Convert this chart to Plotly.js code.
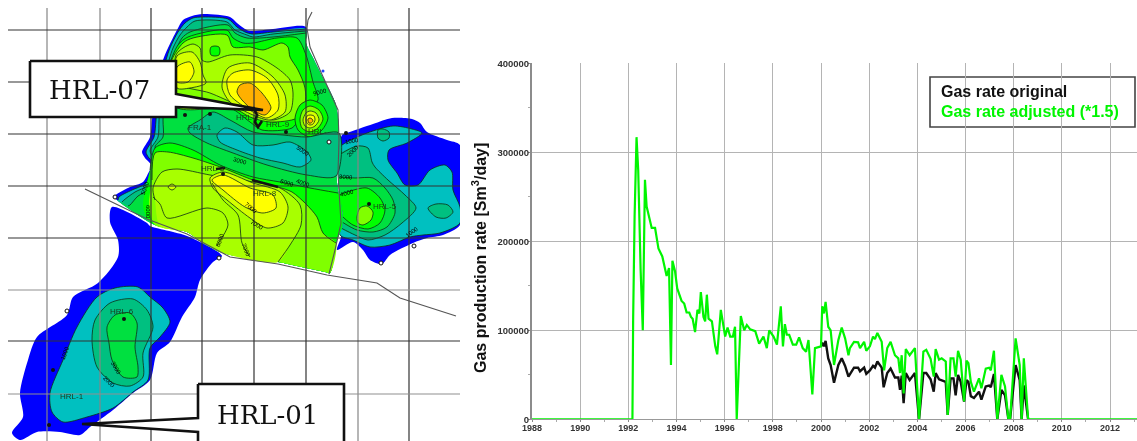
<!DOCTYPE html>
<html>
<head>
<meta charset="utf-8">
<script src="https://cdn.plot.ly/plotly-3.0.1.min.js"></script>
<style>
html,body{margin:0;padding:0;background:#fff;overflow:hidden}
#chart{width:1137px;height:441px}
#chart svg.main-svg{filter:blur(.4px)}
</style>
</head>
<body>
<div id="chart"></div>
<script>
// ---------- production chart data (year, Sm3/day) ----------
const adjustedYears = [1988,1992.17,1992.2,1992.23,1992.26,1992.34,1992.41,1992.51,1992.6,1992.69,1992.76,1992.97,1993.11,1993.25,1993.41,1993.59,1993.69,1993.77,1993.83,1993.94,1994.03,1994.21,1994.32,1994.42,1994.53,1994.6,1994.67,1994.77,1994.87,1994.95,1995.01,1995.12,1995.19,1995.26,1995.33,1995.47,1995.61,1995.69,1995.84,1996.02,1996.12,1996.23,1996.34,1996.43,1996.5,1996.67,1996.81,1996.92,1997.06,1997.27,1997.43,1997.61,1997.75,1997.85,1998.03,1998.17,1998.33,1998.42,1998.5,1998.58,1998.68,1998.83,1998.97,1999.09,1999.24,1999.38,1999.48,1999.64,1999.75,2000,2000.05,2000.12,2000.19,2000.3,2000.4,2000.54,2000.72,2000.86,2001,2001.14,2001.2,2001.37,2001.54,2001.62,2001.79,2001.88,2002.03,2002.16,2002.24,2002.34,2002.52,2002.62,2002.75,2002.89,2003.07,2003.21,2003.28,2003.35,2003.43,2003.52,2003.68,2003.9,2004.07,2004.25,2004.37,2004.55,2004.68,2004.76,2004.9,2005.01,2005.18,2005.26,2005.38,2005.5,2005.59,2005.69,2005.8,2005.94,2006.04,2006.12,2006.22,2006.35,2006.56,2006.66,2006.84,2006.98,2007.05,2007.18,2007.32,2007.49,2007.64,2007.78,2007.85,2008.08,2008.25,2008.33,2008.42,2008.6,2013.2];
const gasAdjusted = [0,0,113000,175000,228000,317000,280000,168000,100000,269000,239000,215000,215000,192000,183000,161000,170000,61000,178000,166000,147000,133000,130000,120000,120000,115000,113000,98000,123000,119000,143000,115000,110000,140000,113000,110000,82000,73000,123000,93000,103000,93000,93000,104000,0,116000,100000,106000,101000,99000,85000,93000,80000,100000,93000,84000,127000,82000,107000,95000,95000,84000,84000,92000,80000,76000,89000,28000,80000,82000,127000,119000,132000,104000,100000,61000,89000,103000,91000,72000,80000,87000,86500,80000,87000,77000,82000,93000,90000,97000,87000,55000,80000,87000,72000,68500,52000,72000,29000,79000,72000,80000,0,76000,78000,68000,48000,79000,67000,68500,65000,5000,68500,68500,48000,77000,67000,20000,66000,63000,42000,31000,46000,35000,57000,58000,55000,77000,0,50000,37000,0,0,91000,61000,0,68500,0,0];
const originalYears = [2000,2000.05,2000.12,2000.19,2000.3,2000.4,2000.54,2000.72,2000.86,2001,2001.14,2001.37,2001.54,2001.62,2001.79,2001.88,2002.03,2002.16,2002.24,2002.34,2002.52,2002.6,2002.75,2002.89,2003.07,2003.21,2003.28,2003.35,2003.43,2003.52,2003.68,2003.9,2004.07,2004.25,2004.37,2004.55,2004.68,2004.76,2004.9,2005.01,2005.18,2005.26,2005.38,2005.5,2005.59,2005.69,2005.8,2005.94,2006.04,2006.12,2006.22,2006.35,2006.56,2006.66,2006.84,2006.98,2007.05,2007.18,2007.32,2007.49,2007.64,2007.78,2007.85,2008.08,2008.25,2008.33,2008.42,2008.6];
const gasOriginal = [82000,86000,82000,88000,68500,61000,41000,61000,68500,60000,48000,58000,58000,54000,58000,51000,55000,60000,58000,65000,58000,36000,52000,57000,47000,47000,33000,49000,18000,52000,44000,52000,0,52000,52000,45000,31000,52000,45000,44000,42000,5000,46000,46000,27000,50000,42000,20000,44000,42000,26000,24000,31000,22000,37000,38000,36000,51000,0,33000,27000,0,0,61000,44000,0,38000,0];
const yearTicks = [1988,1990,1992,1994,1996,1998,2000,2002,2004,2006,2008,2010,2012];
const rateTicks = [0,100000,200000,300000,400000];
const seriesNames = ['Gas rate original','Gas rate adjusted (*1.5)'];
const yTitleText = '<b>Gas production rate [Sm<sup>3</sup>/day]</b>';

// ---------- map data (map sheet coordinates) ----------
const gridXDark = [151,202,254,306,409];
const gridXGrey = [47,100,358];
const gridYDark = [30,82,134,186,238,341];
const gridYGrey = [290,394];
const BLUE='#0000ff',TEAL='#00c0c0',TEALG='#00c080',GREEN='#00e040',BRIGHT='#00ff00',LIME='#80ff00',YG='#a8ff00',YG2='#d4ff00',YEL='#ffff00',ORG='#ffb000';

const eastEdge  = [[306,43],[313,58],[323,78],[335,102],[338,118],[339,133],[336,167],[338,190],[342,210],[342,227],[337,240],[330,273]];
const southEdge = [[325,272],[278,262],[223,253],[203,243],[187,232],[155,225],[117,200]];
const nBlue  = [[113,197],[117,194],[130,187],[143,182],[150,170],[153,167],[145,158],[142,152],[150,137],[152,120],[155,90],[163,60],[168,48],[177,30],[183,20],[192,16],[203,14],[230,17],[237,23],[245,29],[250,31],[273,29],[306,27]];
const nTeal  = [[118,200],[119,197],[132,190],[145,184],[152,172],[155,165],[149,158],[146,152],[154,137],[156,120],[158,90],[166,60],[170,48],[178,32],[185,23],[193,18],[203,17],[228,19],[237,27],[245,32],[252,34],[273,32],[306,29]];
const nTealG = [[122,202],[124,200],[135,192],[147,186],[154,174],[158,166],[154,158],[150,151],[158,137],[159,120],[161,90],[169,60],[173,48],[180,35],[187,27],[195,21],[227,22],[235,30],[247,35],[253,37],[273,34],[306,31]];
const nGreen = [[128,206],[130,205],[138,196],[149,190],[154,180],[161,170],[161,158],[155,147],[163,137],[163,120],[165,90],[172,60],[176,50],[182,38],[190,32],[228,25],[235,33],[247,38],[273,37],[306,33]];
const upBright = [[168,70],[178,45],[188,37],[227,30],[233,38],[243,43],[253,43],[277,38],[297,38],[306,55],[313,82],[318,100],[310,108],[300,118],[292,128],[262,130],[250,122],[230,108],[176,107],[165,105]];
const upLime = [[170,65],[183,43],[193,38],[227,35],[233,47],[250,47],[263,50],[282,43],[288,47],[290,57],[298,70],[305,88],[305,105],[297,118],[270,122],[250,117],[233,108],[176,107]];
const upYG = [[176,55],[183,48],[193,44],[200,48],[202,60],[208,62],[230,55],[257,57],[277,68],[290,80],[293,93],[290,112],[273,120],[253,113],[237,105],[210,93],[177,83]];
const leftYG2 = [[177,56],[192,52],[200,62],[203,75],[206,83],[190,88],[177,88]];
const leftYel = [[177,67],[190,62],[194,72],[188,82],[177,82]];
const peakYG2 = [[222,87],[228,68],[250,63],[273,77],[285,95],[285,112],[270,120],[253,115],[230,102]];
const peakYel = [[227,80],[233,73],[250,70],[267,78],[278,95],[278,110],[267,118],[253,112],[230,95]];
const peakOrg = [[237,92],[240,85],[250,83],[262,93],[271,108],[265,115],[253,110],[242,100]];
const pond = [[215,46],[219,47],[220,51],[219,55],[215,56],[211,55],[210,51],[211,47]];
const trough = [[188,128],[200,120],[213,112],[230,120],[253,132],[283,135],[307,137],[339,133],[336,176],[307,175],[267,165],[233,153],[207,143],[190,133]];
const troughCore = [[217,135],[225,128],[237,132],[253,145],[273,145],[290,142],[307,152],[311,160],[300,167],[283,163],[260,158],[237,150],[220,142]];
const southBright = [[150,170],[155,148],[170,143],[193,150],[220,165],[253,177],[280,182],[310,188],[338,193]];
const southBrightClose = [[342,210],[342,227],[337,240],[330,273],[325,272],[278,262],[223,253],[203,243],[187,232],[155,225],[147,218],[143,205]];
const southLime = [[152,180],[155,153],[168,152],[193,158],[223,168],[253,180],[278,187],[292,192],[306,204],[317,217],[323,233],[336,243]];
const southLimeClose = [[330,273],[325,272],[278,262],[223,253],[203,243],[187,232],[155,225],[149,205]];
const southYG = [[155,200],[153,188],[162,172],[177,169],[210,175],[253,182],[280,188],[300,205],[301,225],[290,245],[278,262]];
const southYGClose = [[223,253],[203,243],[187,232],[160,226]];
const coreYG2 = [[210,178],[223,172],[253,183],[280,192],[288,207],[283,223],[267,228],[250,218],[227,200],[213,188]];
const coreYel = [[212,180],[223,175],[250,188],[273,195],[276,208],[263,213],[245,207],[223,190]];
const lineA = [[153,197],[160,204],[167,218],[207,208],[223,213],[228,225],[217,245]];
const lineB = [[212,183],[223,200],[238,215],[242,243],[250,257]];
const oval = [[168,187],[172,184],[176,187],[172,190]];
const ring1 = [[310,100],[322,105],[328,118],[322,130],[310,137],[298,130],[295,118],[300,105]];
const ring2 = [[310,106],[319,110],[323,119],[318,128],[310,132],[302,128],[300,119],[303,110]];
const ring3 = [[310,111],[316,113],[319,120],[315,126],[310,128],[305,126],[303,120],[306,113]];
const ring4 = [[310,115],[314,116],[315,120],[313,124],[310,125],[307,123],[306,120],[307,116]];
const ring5 = [[310,118],[312,119],[313,121],[311,123],[309,123],[308,121],[308,119]];

const swBlue = [[112,207],[147,223],[150,226],[187,236],[222,256],[213,262],[200,280],[195,297],[182,317],[170,342],[157,353],[150,380],[133,393],[113,410],[90,427],[80,435],[60,432],[37,432],[20,440],[12,433],[23,417],[20,393],[28,360],[37,337],[67,315],[73,297],[98,283],[118,257],[118,240],[110,222]];
const swTeal = [[115,288],[138,287],[150,297],[163,308],[170,322],[160,337],[150,348],[148,380],[133,392],[113,408],[87,417],[63,422],[52,412],[50,393],[63,360],[77,327],[97,297]];
const swTealG = [[92,340],[95,320],[110,303],[133,299],[147,310],[153,327],[143,353],[143,377],[130,386],[113,383],[97,367]];
const swGreen = [[107,327],[115,315],[130,313],[137,323],[135,347],[138,367],[137,377],[123,377],[112,360],[109,343]];

const eBlue = [[342,135],[347,133],[373,124],[392,118],[412,119],[420,123],[427,132],[447,140],[460,145],[464,185],[460,225],[443,235],[427,238],[413,243],[390,255],[382,264],[370,260],[363,250],[353,242],[337,250],[341,237],[343,213],[339,187],[339,153]];
const eTeal = [[342,145],[347,142],[367,133],[393,126],[412,129],[422,133],[407,143],[389,150],[388,160],[397,173],[405,185],[418,185],[430,170],[445,165],[452,172],[453,190],[460,207],[460,223],[440,233],[423,235],[410,237],[390,245],[370,247],[353,240],[340,235],[343,213],[339,187],[339,153]];
const eTealG = [[339,155],[357,146],[368,148],[372,162],[375,167],[388,180],[405,195],[416,208],[402,223],[385,235],[368,240],[355,235],[341,228]];
const eTealGClose = [[343,213],[339,187]];
const eGreen = [[339,177],[355,178],[373,178],[385,188],[393,200],[395,213],[387,227],[373,232],[357,230],[342,222]];
const eGreenClose = [[343,213],[339,187]];
const eBright = [[339,195],[347,192],[367,188],[380,198],[385,210],[380,223],[368,229],[353,225],[343,217]];
const eBrightClose = [[343,213]];
const eLime = [[357,217],[360,208],[367,206],[373,212],[371,220],[363,225],[358,223]];
const eOvalA = [[378,130],[383,129],[389,132],[389,138],[383,141],[378,138]];
const eOvalB = [[428,208],[436,204],[448,205],[453,212],[446,218],[436,217]];

const faultSouth = [[85,189],[147,219],[187,234],[230,257],[278,264],[327,275],[377,283],[400,298],[456,316]];
const faultEast  = [[312,12],[308,20],[307,28],[310,47],[320,70],[338,110],[339,140],[338,173],[340,207],[341,223],[335,250],[329,274]];
const wellClusterA = [[253,107],[257,115],[255,122],[258,127],[262,121]];
const wellClusterB = [[252,180],[278,187]];
const wellClusterC = [[216,169],[225,168]];
const wellsSolid = [[124,319],[53,370],[49,425],[210,114],[286,132],[223,174],[369,204],[346,133],[185,115]];
const wellsOpen  = [[67,311],[219,258],[381,263],[414,246],[329,142],[115,197]];
const wellBlue   = [[323,71]];

const wellNames = [['HRL-6',122,311],['HRL-1',72,396],['FRA-1',200,127],['HRL-5',385,206],['HRL-8',265,193],['HRL-3',213,168],['HRL-9',278,124],['HRL-7',248,117],['HRL-',317,131]];
const contourLabels = [['3000',240,161,15],['5000',303,151,35],['6000',287,183,18],['4000',303,183,20],['7000',251,208,40],['7000',257,225,30],['6000',220,240,-70],['7000',246,250,70],['6000',148,212,90],['5000',145,188,-70],['3000',346,177,5],['4000',347,193,-15],['2000',353,151,-45],['1000',352,141,-10],['1000',412,232,-35],['1000',65,353,-70],['3000',116,368,60],['2000',109,382,45],['9000',320,92,-15]];

const calloutTop = [[30,61],[176,61],[176,94],[263,110],[176,107],[176,117],[30,117],[30,61]];
const calloutBottom = [[198,384],[344,384],[344,446],[198,446],[198,432],[82,424],[198,418],[198,384]];
const calloutNames = [['HRL-07',99,90],['HRL-01',267,415]];

const MAP_W = 460, W = 1137, H = 441;
const SMOOTH = {shape:'spline',smoothing:0.8};
const mapTraces = [];
function xs(p){return p.map(q=>q[0]);}
function ys(p){return p.map(q=>q[1]);}
function base(extra){return Object.assign({mode:'lines',xaxis:'x2',yaxis:'y2',hoverinfo:'skip',showlegend:false},extra);}
function fillTrace(color, all){
  mapTraces.push(base({x:xs(all),y:ys(all),fill:'toself',fillcolor:color,line:Object.assign({width:0,color:color},SMOOTH)}));
}
function layer(color, pts, close){
  const c = close || [];
  const all = pts.concat(c); all.push(pts[0]);
  if(color) fillTrace(color, all);
  const ln = close ? pts : pts.concat([pts[0]]);
  mapTraces.push(base({x:xs(ln),y:ys(ln),line:Object.assign({width:.8,color:'#0c2e14'},SMOOTH)}));
}
function plain(color, pts, close){
  const all = pts.concat(close||[]); all.push(pts[0]);
  fillTrace(color, all);
}
const edges = eastEdge.concat(southEdge);
plain(BLUE, swBlue);
layer(TEAL, swTeal);
layer(TEALG, swTealG);
layer(GREEN, swGreen);
plain(BLUE, eBlue);
layer(TEAL, eTeal, []);
layer(TEALG, eOvalA);
layer(TEALG, eOvalB);
layer(TEALG, eTealG, eTealGClose);
layer(GREEN, eGreen, eGreenClose);
layer(BRIGHT, eBright, eBrightClose);
layer(LIME, eLime);
plain(BLUE, nBlue, edges);
layer(TEAL, nTeal, edges);
layer(TEALG, nTealG, edges);
layer(GREEN, nGreen, edges);
layer(BRIGHT, upBright);
layer(LIME, upLime);
layer(YG, upYG);
layer(YG2, leftYG2);
layer(YEL, leftYel);
layer(BRIGHT, pond);
layer(YG2, peakYG2);
layer(YEL, peakYel);
layer(ORG, peakOrg);
layer(BRIGHT, ring1);
layer(LIME, ring2);
layer(YG2, ring3);
layer(YEL, ring4);
layer(ORG, ring5);
layer(BRIGHT, southBright, southBrightClose);
layer(TEALG, trough);
layer(TEAL, troughCore);
layer(LIME, southLime, southLimeClose);
layer(YG, southYG, southYGClose);
layer(YG2, coreYG2);
layer(YEL, coreYel);
layer(null, lineA, []);
layer(null, lineB, []);
layer(YG2, oval);

function segs(vals, axis, lo, hi){
  const a=[],b=[];
  vals.forEach(v=>{a.push(v,v,null);b.push(lo,hi,null);});
  return axis==='v'?{x:a,y:b}:{x:b,y:a};
}
[[gridXDark,'v','#333'],[gridXGrey,'v','#858585'],[gridYDark,'h','#333'],[gridYGrey,'h','#8f8f8f']].forEach(g=>{
  const s = g[1]==='v'?segs(g[0],'v',8,441):segs(g[0],'h',8,460);
  mapTraces.push(base({x:s.x,y:s.y,line:{width:1.2,color:g[2]}}));
});
[faultSouth,faultEast].forEach(f=>mapTraces.push(base({x:xs(f),y:ys(f),line:{width:1.1,color:'#555'}})));
[wellClusterA,wellClusterB,wellClusterC].forEach(f=>mapTraces.push(base({x:xs(f),y:ys(f),line:{width:2.6,color:'#111'}})));
mapTraces.push(base({x:xs(wellsSolid),y:ys(wellsSolid),mode:'markers',marker:{size:4,color:'#111'}}));
mapTraces.push(base({x:xs(wellsOpen),y:ys(wellsOpen),mode:'markers',marker:{size:4,color:'#fff',line:{width:1,color:'#111'}}}));
mapTraces.push(base({x:xs(wellBlue),y:ys(wellBlue),mode:'markers',marker:{size:3,color:'#2040ff'}}));
[calloutTop,calloutBottom].forEach(c=>mapTraces.push(base({x:xs(c),y:ys(c),fill:'toself',fillcolor:'#fff',line:{width:2.6,color:'#111'}})));

const chartTraces = [
  {x:originalYears,y:gasOriginal,name:seriesNames[0],mode:'lines',line:{color:'#111',width:2.4},cliponaxis:false,hoverinfo:'skip',showlegend:false,xaxis:'x',yaxis:'y'},
  {x:adjustedYears,y:gasAdjusted,name:seriesNames[1],mode:'lines',line:{color:'#00f500',width:2.2},cliponaxis:false,hoverinfo:'skip',showlegend:false,xaxis:'x',yaxis:'y'}
];

const annotations = [];
wellNames.forEach(n=>annotations.push({x:n[1],y:n[2],xref:'x2',yref:'y2',text:n[0],showarrow:false,font:{family:'Liberation Sans',size:8,color:'#1a3a1a'}}));
contourLabels.forEach(n=>annotations.push({x:n[1],y:n[2],xref:'x2',yref:'y2',text:n[0],textangle:n[3],showarrow:false,font:{family:'Liberation Sans',size:6,color:'#000'}}));
calloutNames.forEach(n=>annotations.push({x:n[1],y:n[2],xref:'x2',yref:'y2',text:n[0],showarrow:false,font:{family:'DejaVu Serif',size:26,color:'#111'}}));
annotations.push({x:479/W,y:1-258/H,xref:'paper',yref:'paper',xanchor:'center',yanchor:'middle',text:yTitleText,textangle:-90,showarrow:false,font:{family:'Liberation Sans',size:16,color:'#111'}});
annotations.push({x:939/W,y:1-92/H,xref:'paper',yref:'paper',xanchor:'left',yanchor:'middle',text:'<b>'+seriesNames[0]+'</b>',showarrow:false,font:{family:'Liberation Sans',size:16,color:'#111'}});
annotations.push({x:939/W,y:1-111/H,xref:'paper',yref:'paper',xanchor:'left',yanchor:'middle',text:'<b>'+seriesNames[1]+'</b>',showarrow:false,font:{family:'Liberation Sans',size:16,color:'#00f500'}});

const layout = {
  width:W,height:H,margin:{l:0,r:0,t:0,b:0},paper_bgcolor:'#fff',plot_bgcolor:'#fff',showlegend:false,
  xaxis:{domain:[532/W,1],range:[1988,2013.12],tickvals:yearTicks,tickformat:'d',showgrid:true,gridcolor:'#b4b4b4',gridwidth:1,zeroline:false,ticks:'outside',ticklen:2,tickcolor:'#888',ticklabelstandoff:-2,
    showline:true,linecolor:'#999',linewidth:1,anchor:'y',tickfont:{family:'Liberation Sans',size:9,color:'#333',weight:700},
    minor:{dtick:1,ticks:'outside',ticklen:2,tickcolor:'#aaa',showgrid:false}},
  yaxis:{domain:[(H-419.3)/H,(H-63.3)/H],range:[0,400000],tickvals:rateTicks,tickformat:'d',showgrid:true,gridcolor:'#b4b4b4',gridwidth:1,zeroline:false,ticks:'outside',ticklen:2,tickcolor:'#888',ticklabelstandoff:-3,
    showline:true,linecolor:'#8c8c8c',linewidth:2,anchor:'x',tickfont:{family:'Liberation Sans',size:9.5,color:'#333',weight:700},
    minor:{dtick:50000,ticks:'outside',ticklen:2,tickcolor:'#aaa',showgrid:false}},
  xaxis2:{domain:[0,MAP_W/W],range:[0,MAP_W],visible:false,anchor:'y2',fixedrange:true},
  yaxis2:{domain:[0,1],range:[H,0],visible:false,anchor:'x2',fixedrange:true},
  shapes:[{type:'rect',xref:'paper',yref:'paper',x0:930/W,x1:1135/W,y0:1-77/H,y1:1-127/H,fillcolor:'#fff',line:{color:'#444',width:1.6},layer:'below'}],
  annotations:annotations
};
Plotly.newPlot('chart',mapTraces.concat(chartTraces),layout,{displayModeBar:false,staticPlot:true});
</script>
</body>
</html>
